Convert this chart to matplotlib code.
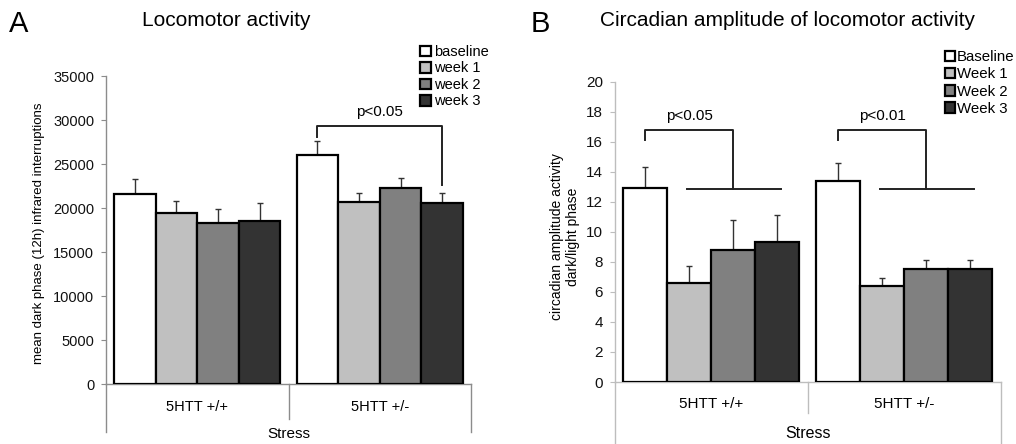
import matplotlib
matplotlib.use("Agg")
import matplotlib.pyplot as plt
import numpy as np

plt.rcParams['font.family'] = ['Liberation Sans', 'DejaVu Sans']

# --- data ---
genotypes = ['5HTT +/+', '5HTT +/-']
weeks_a = ['baseline', 'week 1', 'week 2', 'week 3']
weeks_b = ['Baseline', 'Week 1', 'Week 2', 'Week 3']
colores = ['#ffffff', '#c0c0c0', '#808080', '#333333']

# A: mean dark phase infrared interruptions, columns = baseline..week 3
loco_mean = [[21600, 19450, 18250, 18500],
             [26000, 20650, 22250, 20600]]
loco_sem = [[1700, 1400, 1650, 2100],
            [1650, 1050, 1150, 1050]]

# B: circadian amplitude dark/light
amp_mean = [[12.9, 6.6, 8.8, 9.35],
            [13.4, 6.4, 7.55, 7.5]]
amp_sem = [[1.4, 1.1, 2.0, 1.75],
           [1.2, 0.55, 0.55, 0.6]]

W, H = 1016, 444
fig = plt.figure(figsize=(W / 100, H / 100), dpi=100)

def px(x, y):
    return x / W, 1 - y / H

ancho = 0.91 / 4
xg = np.arange(len(genotypes))


def panel(ax, medias, errores, ymax, ystep, ejecolor, largo_ext, largo_mid,
          y_lab, y_stress, fs):
    barras = []
    for i in range(4):
        pos = xg - 0.91 / 2 + ancho * (i + 0.5)
        vals = [m[i] for m in medias]
        errs = [e[i] for e in errores]
        b = ax.bar(pos, vals, ancho, color=colores[i], edgecolor='black',
                   linewidth=1.6, zorder=3)
        ax.errorbar(pos, vals, yerr=[np.zeros(len(vals)), errs], fmt='none',
                    ecolor='#333333', elinewidth=1.0, capsize=2.5,
                    capthick=1.0, zorder=2)
        barras.append(b)
    ax.set_xlim(-0.5, len(genotypes) - 0.5)
    ax.set_ylim(0, ymax)
    ax.set_yticks(np.arange(0, ymax + 1e-9, ystep))
    ax.set_xticks([])
    for s in ['top', 'right']:
        ax.spines[s].set_visible(False)
    for s in ['left', 'bottom']:
        ax.spines[s].set_color(ejecolor)
        ax.spines[s].set_linewidth(1.0)
    ax.tick_params(axis='y', direction='out', length=3.5, color=ejecolor,
                   labelsize=fs, pad=5, labelcolor='#111111')
    trans = ax.get_xaxis_transform()
    for xv, largo in [(-0.5, largo_ext), (0.5, largo_mid), (1.5, largo_ext)]:
        ax.plot([xv, xv], [0, -largo], color=ejecolor, lw=1.0,
                transform=trans, clip_on=False)
    for j, g in enumerate(genotypes):
        ax.text(xg[j], y_lab, g, transform=trans, ha='center', va='center',
                fontsize=fs)
    ax.text(0.5, y_stress, 'Stress', transform=trans, ha='center',
            va='center', fontsize=fs + 0.5)
    return barras


def centro(g, i):
    return xg[g] - 0.91 / 2 + ancho * (i + 0.5)


# ---- panel A ----
axA = fig.add_axes([106 / W, 1 - 384 / H, 365 / W, 308 / H])
barrasA = panel(axA, loco_mean, loco_sem, 35000, 5000, '#8c8c8c',
                0.156, 0.114, -0.075, -0.162, 10.5)
x0, x1 = centro(1, 0), centro(1, 3)
axA.plot([x0, x0, x1, x1], [28100, 29300, 29300, 22600], color='#222222',
         lw=1.4, zorder=4)
axA.text((x0 + x1) / 2, 30900, 'p<0.05', ha='center', va='center',
         fontsize=11)
axA.legend([b[0] for b in barrasA], weeks_a, loc='upper left',
           bbox_to_anchor=px(420, 45), bbox_transform=fig.transFigure,
           frameon=False, fontsize=10.5, handlelength=0.75, handleheight=0.75,
           handletextpad=0.2, labelspacing=0.17, borderpad=0,
           borderaxespad=0)

fig.text(*px(19, 24), 'A', fontsize=21, ha='center', va='center')
fig.text(*px(226, 20), 'Locomotor activity', fontsize=15, ha='center',
         va='center')
fig.text(*px(39, 233), 'mean dark phase (12h) infrared interruptions',
         rotation=90, fontsize=9.5, ha='center', va='center')

# ---- panel B ----
axB = fig.add_axes([614.7 / W, 1 - 382 / H, 386 / W, 300.3 / H])
barrasB = panel(axB, amp_mean, amp_sem, 20, 2, '#bdbdbd',
                0.22, 0.103, -0.073, -0.171, 11)
for g, txt in enumerate(['p<0.05', 'p<0.01']):
    xa, xm = centro(g, 0), centro(g, 2)
    axB.plot([xa, xa, xm, xm], [16.1, 16.8, 16.8, 12.85], color='#222222',
             lw=1.4, zorder=4)
    axB.plot([centro(g, 1) - 0.01, centro(g, 3) + 0.02], [12.85, 12.85],
             color='#222222', lw=1.4, zorder=4)
    axB.text((xa + xm) / 2, 17.7, txt, ha='center', va='center',
             fontsize=11)
axB.legend([b[0] for b in barrasB], weeks_b, loc='upper left',
           bbox_to_anchor=px(945, 50), bbox_transform=fig.transFigure,
           frameon=False, fontsize=10.8, handlelength=0.65, handleheight=0.7,
           handletextpad=0.12, labelspacing=0.22, borderpad=0,
           borderaxespad=0)

fig.text(*px(540, 24), 'B', fontsize=21, ha='center', va='center')
fig.text(*px(788, 21), 'Circadian amplitude of locomotor activity',
         fontsize=15, ha='center', va='center')
fig.text(*px(565, 237), 'circadian amplitude activity\ndark/light phase',
         rotation=90, fontsize=10, ha='center', va='center',
         multialignment='center', linespacing=1.1)

plt.savefig('out.png', dpi=100)
